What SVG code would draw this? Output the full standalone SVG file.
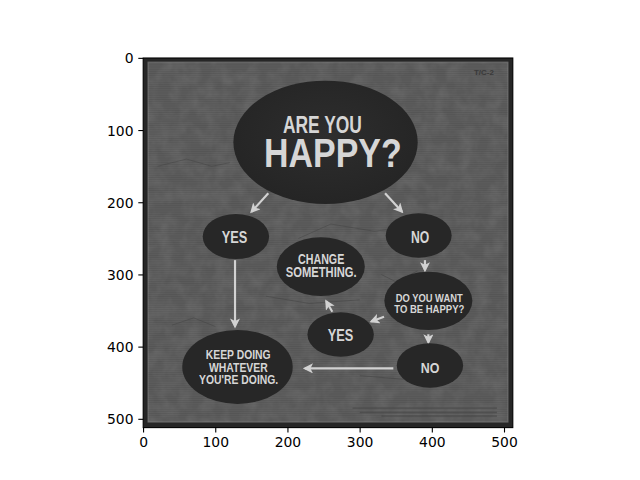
<svg xmlns="http://www.w3.org/2000/svg" width="640" height="480" viewBox="0 0 640 480">
<style>
.nd{fill:#272727;}
.t{font-family:"Liberation Sans",Arial,sans-serif;font-weight:bold;fill:#d6d6d6;text-anchor:middle;}
.ar{stroke:#d2d2d2;stroke-width:3;fill:none;marker-end:url(#ah);}
.tk{stroke:#000;stroke-width:1.1;}
.tl{font-family:"DejaVu Sans",sans-serif;font-size:13.9px;fill:#000;}
</style>
<defs>
<marker id="ah" markerUnits="userSpaceOnUse" markerWidth="14" markerHeight="14" viewBox="0 0 10 10" refX="8" refY="5" orient="auto">
<path d="M0,0 L10,5 L0,10 L2.5,5 Z" fill="#d2d2d2"/>
</marker>
<pattern id="scan" width="4" height="3" patternUnits="userSpaceOnUse">
<rect width="4" height="1" fill="#000" opacity="0.07"/>
</pattern>
<filter id="noise" x="0" y="0" width="100%" height="100%">
<feTurbulence type="fractalNoise" baseFrequency="0.05" numOctaves="3" seed="4"/>
<feColorMatrix type="matrix" values="0 0 0 0 0.5  0 0 0 0 0.5  0 0 0 0 0.5  0 0 0 1.2 -0.4"/>
</filter>
<radialGradient id="mg" cx="0.5" cy="0.45" r="0.6">
<stop offset="0" stop-color="#2e2e2e"/>
<stop offset="1" stop-color="#242424"/>
</radialGradient>
</defs>
<rect width="640" height="480" fill="#fff"/>
<g id="poster" transform="translate(143.2,58) scale(0.7219)">
<rect x="0" y="0" width="512" height="512" fill="#262626"/>
<rect x="7" y="6" width="498" height="498" fill="#5b5b5b" stroke="#686868" stroke-width="2"/>
<rect x="7" y="6" width="498" height="498" filter="url(#noise)" opacity="0.2"/>
<rect x="7" y="6" width="498" height="498" fill="url(#scan)"/>
<g stroke="#3e3e3e" stroke-width="1" fill="none" opacity="0.6">
<path d="M20,150 L60,140 L95,150 L120,145"/>
<path d="M215,250 L260,230 L320,240 L360,235"/>
<path d="M330,300 L350,310 L380,295"/>
<path d="M40,370 L70,360 L100,372"/>
<path d="M170,330 L230,340 L300,335"/>
<path d="M300,440 L360,445 L400,438"/>
</g>
<text x="472" y="23" font-family="Liberation Sans,sans-serif" font-weight="bold" font-size="11" fill="#3a3a3a" text-anchor="middle">T/C-2</text>
<g fill="#444" opacity="0.6">
<rect x="290" y="484" width="200" height="2"/>
<rect x="300" y="490" width="190" height="2"/>
<rect x="330" y="495" width="160" height="2"/>
</g>
<g id="connectors">
<line class="ar" x1="173.3" y1="187.4" x2="150" y2="213"/>
<line class="ar" x1="335" y1="187.4" x2="358.5" y2="213"/>
<line class="ar" x1="127.2" y1="280" x2="127.2" y2="372"/>
<line class="ar" x1="390.3" y1="280" x2="390.3" y2="294"/>
<line class="ar" x1="333.6" y1="358.3" x2="316" y2="365"/>
<line class="ar" x1="262" y1="351.4" x2="253.5" y2="337"/>
<line class="ar" x1="395" y1="382.7" x2="395" y2="394"/>
<line class="ar" x1="346.5" y1="430" x2="224" y2="430"/>
</g>
<g id="n-happy">
<ellipse cx="252.6" cy="116.8" rx="127.7" ry="85.4" fill="url(#mg)"/>
<text class="t" x="248.3" y="104.3" font-size="32" textLength="109.4" lengthAdjust="spacingAndGlyphs">ARE YOU</text>
<text class="t" x="262.7" y="151.4" font-size="56" textLength="190.7" lengthAdjust="spacingAndGlyphs">HAPPY?</text>
</g>
<g id="n-yes1">
<ellipse class="nd" cx="128.4" cy="247.3" rx="46" ry="31.3"/>
<text class="t" x="126.5" y="256.7" font-size="23.7" textLength="35.5" lengthAdjust="spacingAndGlyphs">YES</text>
</g>
<g id="n-no1">
<ellipse class="nd" cx="381.6" cy="245.8" rx="45.7" ry="30.8"/>
<text class="t" x="383.7" y="256.7" font-size="23" textLength="25.3" lengthAdjust="spacingAndGlyphs">NO</text>
</g>
<g id="n-change">
<ellipse class="nd" cx="246" cy="289" rx="61" ry="40.6"/>
<text class="t" x="246.5" y="285.8" font-size="20" textLength="64.2" lengthAdjust="spacingAndGlyphs">CHANGE</text>
<text class="t" x="246.6" y="302.9" font-size="19.5" textLength="98.3" lengthAdjust="spacingAndGlyphs">SOMETHING.</text>
</g>
<g id="n-want">
<ellipse class="nd" cx="395" cy="336.4" rx="61" ry="40.4"/>
<text class="t" x="396.2" y="337.6" font-size="16" textLength="92.8" lengthAdjust="spacingAndGlyphs">DO YOU WANT</text>
<text class="t" x="396.3" y="353.7" font-size="16" textLength="97" lengthAdjust="spacingAndGlyphs">TO BE HAPPY?</text>
</g>
<g id="n-yes2">
<ellipse class="nd" cx="273.5" cy="383" rx="46" ry="30.8"/>
<text class="t" x="273.3" y="392" font-size="22.5" textLength="35.4" lengthAdjust="spacingAndGlyphs">YES</text>
</g>
<g id="n-no2">
<ellipse class="nd" cx="397.2" cy="426" rx="46" ry="30.7"/>
<text class="t" x="397.3" y="436" font-size="21.5" textLength="25.8" lengthAdjust="spacingAndGlyphs">NO</text>
</g>
<g id="n-keep">
<ellipse class="nd" cx="130.6" cy="428" rx="76.5" ry="51.2"/>
<text class="t" x="131.6" y="417.4" font-size="18" textLength="90" lengthAdjust="spacingAndGlyphs">KEEP DOING</text>
<text class="t" x="131.8" y="434.5" font-size="17.5" textLength="81.4" lengthAdjust="spacingAndGlyphs">WHATEVER</text>
<text class="t" x="132.2" y="452" font-size="18.5" textLength="109.8" lengthAdjust="spacingAndGlyphs">YOU'RE DOING.</text>
</g>
</g>
<g id="axes">
<rect x="143.2" y="58" width="369.6" height="369.6" fill="none" stroke="#000" stroke-width="1.1"/>
<g class="tk">
<line x1="143.56" y1="427.6" x2="143.56" y2="432.5"/>
<line x1="215.75" y1="427.6" x2="215.75" y2="432.5"/>
<line x1="287.94" y1="427.6" x2="287.94" y2="432.5"/>
<line x1="360.13" y1="427.6" x2="360.13" y2="432.5"/>
<line x1="432.32" y1="427.6" x2="432.32" y2="432.5"/>
<line x1="504.51" y1="427.6" x2="504.51" y2="432.5"/>
<line x1="138.3" y1="58.36" x2="143.2" y2="58.36"/>
<line x1="138.3" y1="130.55" x2="143.2" y2="130.55"/>
<line x1="138.3" y1="202.74" x2="143.2" y2="202.74"/>
<line x1="138.3" y1="274.93" x2="143.2" y2="274.93"/>
<line x1="138.3" y1="347.12" x2="143.2" y2="347.12"/>
<line x1="138.3" y1="419.31" x2="143.2" y2="419.31"/>
</g>
<g class="tl" text-anchor="middle">
<text x="143.56" y="447.3">0</text>
<text x="215.75" y="447.3">100</text>
<text x="287.94" y="447.3">200</text>
<text x="360.13" y="447.3">300</text>
<text x="432.32" y="447.3">400</text>
<text x="504.51" y="447.3">500</text>
</g>
<g class="tl" text-anchor="end">
<text x="133.5" y="63.4">0</text>
<text x="133.5" y="135.6">100</text>
<text x="133.5" y="207.8">200</text>
<text x="133.5" y="280">300</text>
<text x="133.5" y="352.2">400</text>
<text x="133.5" y="424.4">500</text>
</g>
</g>
</svg>
